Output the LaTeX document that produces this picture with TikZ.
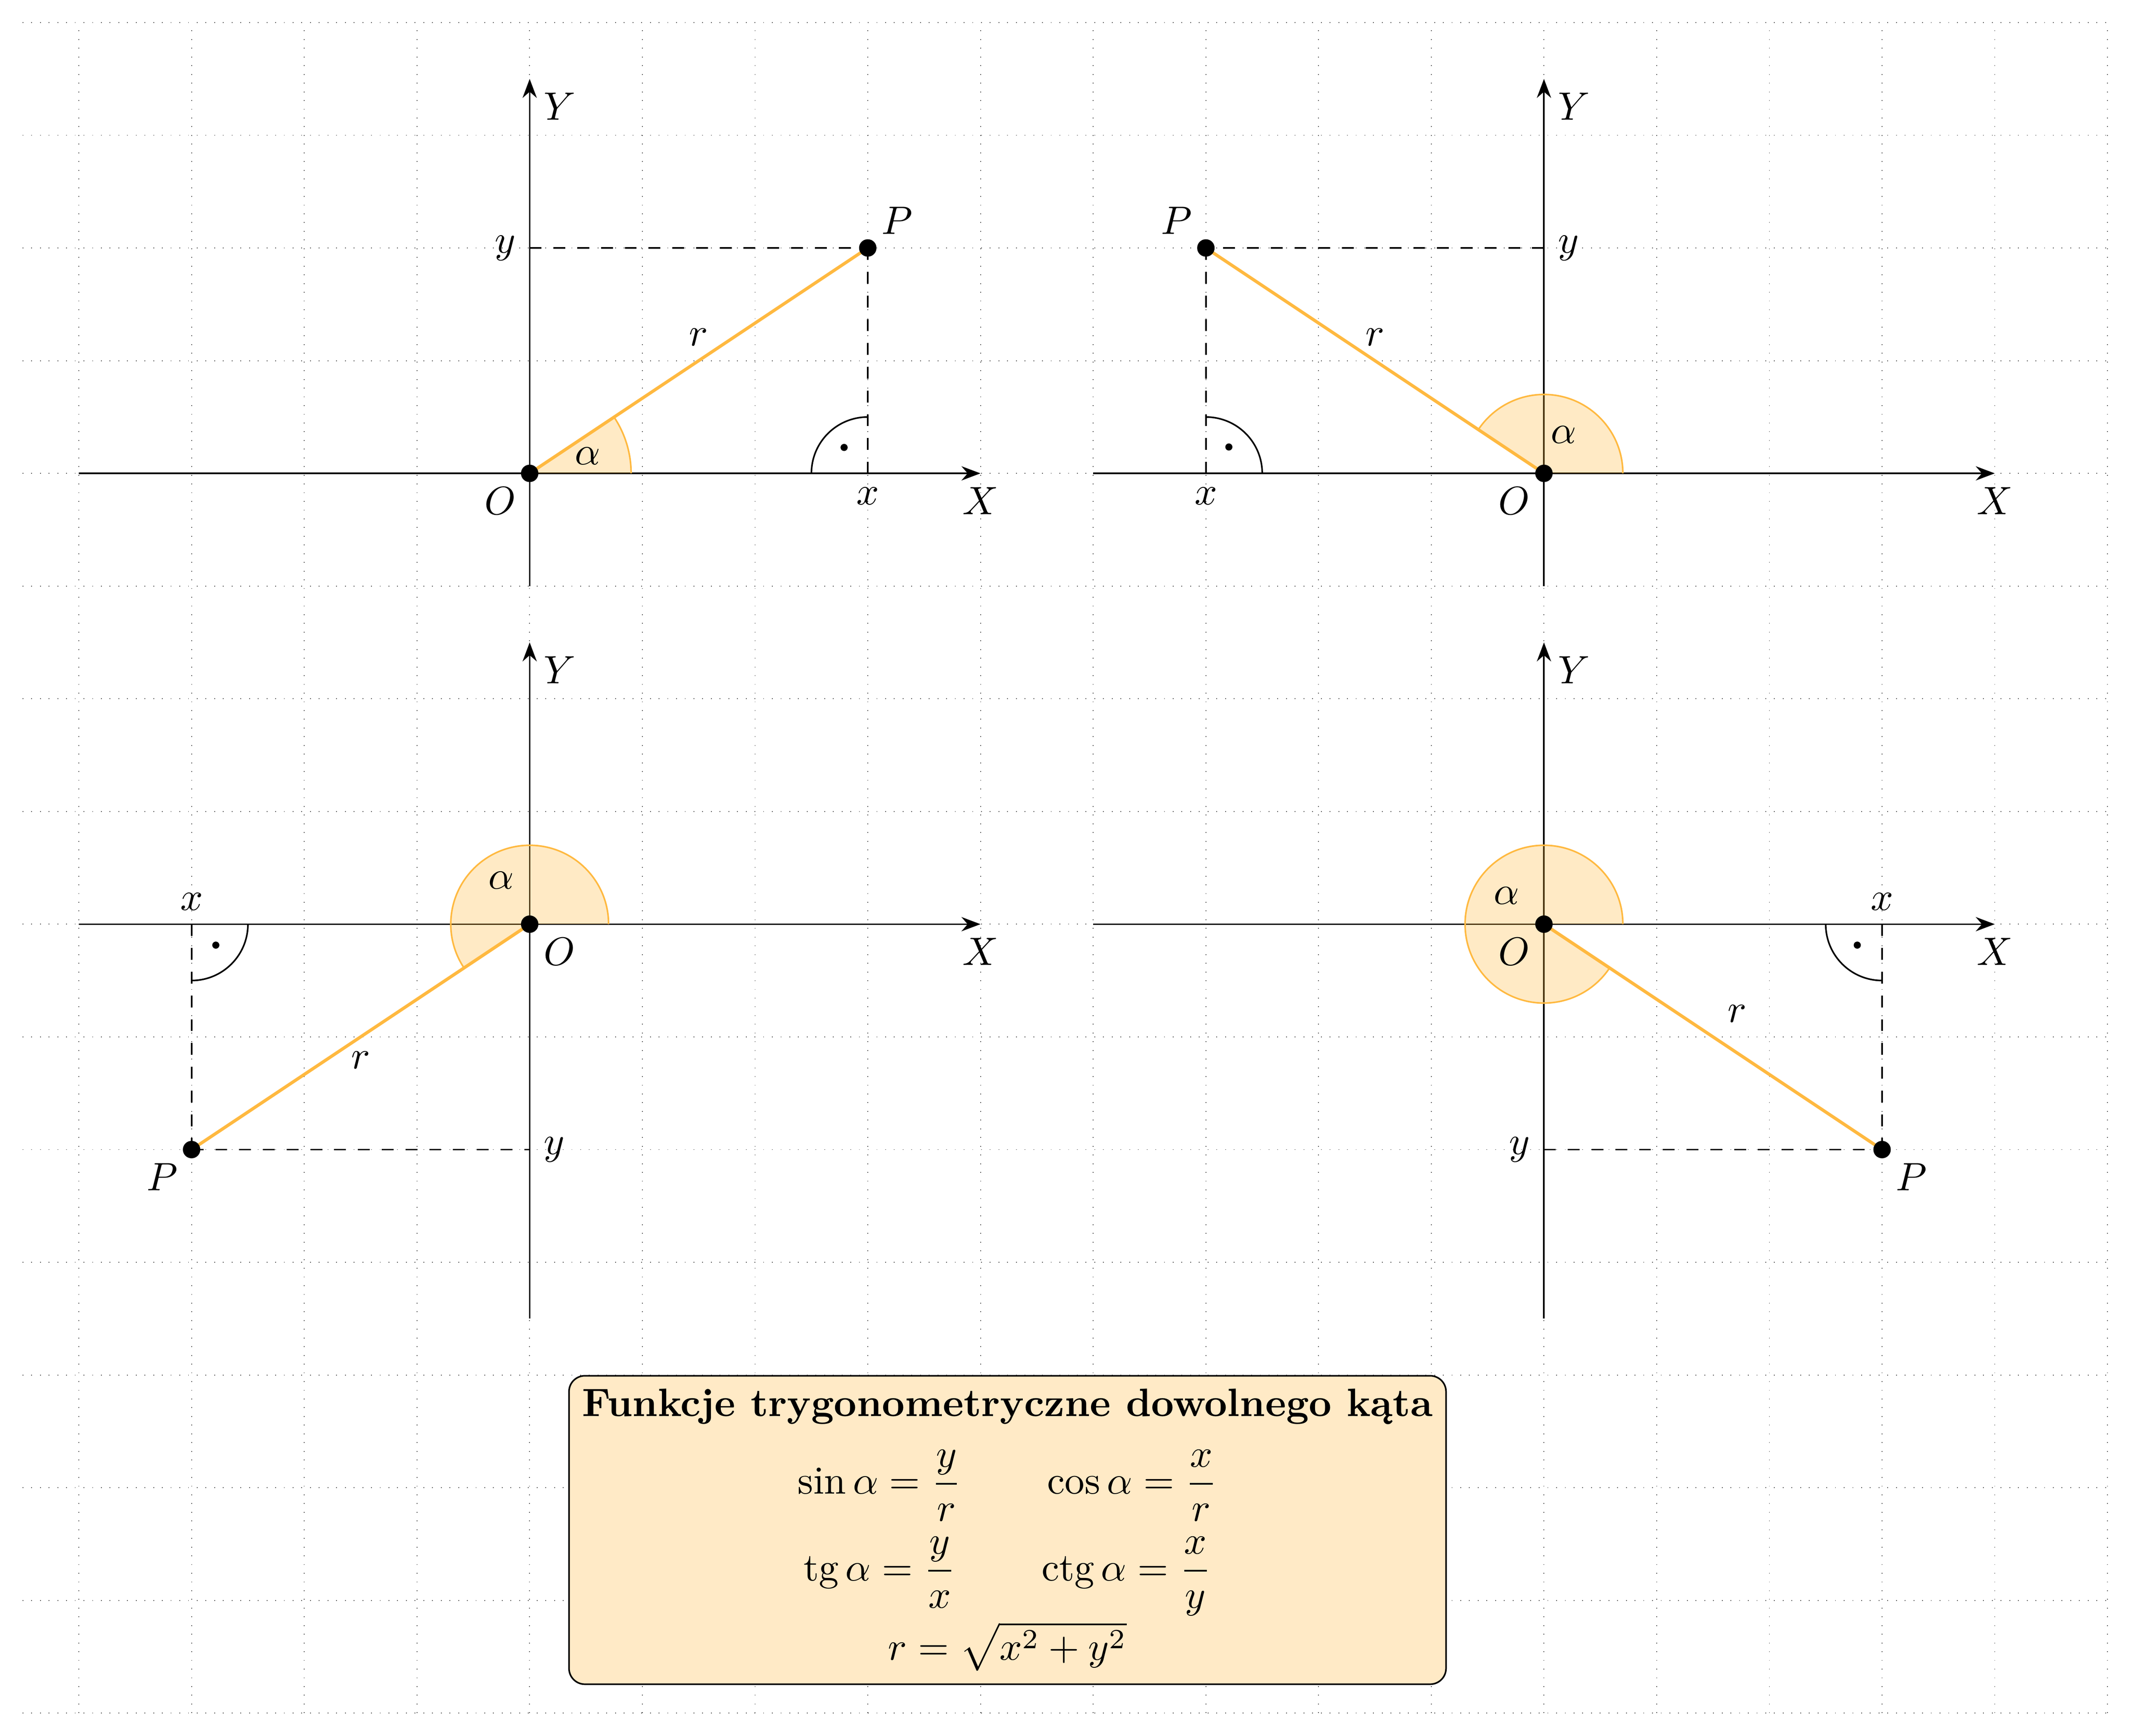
\documentclass[tikz,border=0pt]{standalone}
\usepackage{amsmath}
\usepackage{amssymb}
\usepackage{fontspec}
\usepackage{tikz}
\usetikzlibrary{arrows.meta, calc}
\definecolor{katkolor}{RGB}{255,185,64}
\tikzset{%
	siatka/.style={black!75, line width=0.2pt, dotted},
	os/.style={-{Stealth}},
	ramie/.style={katkolor, thick},
	rzut/.style={dashed},
	kat/.style={fill=katkolor, fill opacity=0.3},
	katluk/.style={katkolor},
	punkt/.style={fill=black},
	opis/.style={text=black},
	wzory/.style={draw, rectangle, rounded corners=4pt, fill=katkolor!30,%
		align=center, anchor=north}
}
\begin{document}
\begin{tikzpicture}
	\useasboundingbox (-4.7,-11.2) rectangle (14.2,4.2);
	\draw[siatka] (-4.5,-11) grid (14,4);

	% I cwiartka
	\begin{scope}
		\coordinate (O1) at (0,0);
		\coordinate (P1) at (3,2);
		\draw[os] (-4,0) -- (4,0) node[below] (X1) {$X$};
		\draw[os] (0,-1) -- (0,3.5) node[below right] (Y1) {$Y$};
		\fill[kat] (O1) -- (0.9,0) arc[start angle=0, end angle=33.69, radius=0.9] -- cycle;
		\draw[katluk] (0.9,0) arc[start angle=0, end angle=33.69, radius=0.9];
		\draw[rzut] (0,2) node[left] (y1) {$y$} -- (P1);
		\draw[rzut] (P1) -- (3,0) node[below] (x1) {$x$};
		\draw (3,0.5) arc[start angle=90, end angle=180, radius=0.5];
		\fill (2.79,0.23) circle (0.9pt);
		\draw[ramie] (O1) -- node[opis, above] (r1) {$r$} (P1);
		\fill[punkt] (O1) circle (2.2pt);
		\fill[punkt] (P1) circle (2.2pt);
		\node[below left] (o1) at (O1) {$O$};
		\node[above right] (p1) at (P1) {$P$};
		\node (a1) at (0.516,0.155) {$\alpha$};
	\end{scope}

	% II cwiartka
	\begin{scope}[shift={(9,0)}]
		\coordinate (O2) at (0,0);
		\coordinate (P2) at (-3,2);
		\draw[os] (-4,0) -- (4,0) node[below] (X2) {$X$};
		\draw[os] (0,-1) -- (0,3.5) node[below right] (Y2) {$Y$};
		\fill[kat] (O2) -- (0.7,0) arc[start angle=0, end angle=146.31, radius=0.7] -- cycle;
		\draw[katluk] (0.7,0) arc[start angle=0, end angle=146.31, radius=0.7];
		\draw[rzut] (0,2) node[right] (y2) {$y$} -- (P2);
		\draw[rzut] (P2) -- (-3,0) node[below] (x2) {$x$};
		\draw (-2.5,0) arc[start angle=0, end angle=90, radius=0.5];
		\fill (-2.796,0.234) circle (0.9pt);
		\draw[ramie] (O2) -- node[opis, above] (r2) {$r$} (P2);
		\fill[punkt] (O2) circle (2.2pt);
		\fill[punkt] (P2) circle (2.2pt);
		\node[below left] (o2) at (O2) {$O$};
		\node[above left] (p2) at (P2) {$P$};
		\node (a2) at (0.175,0.344) {$\alpha$};
	\end{scope}

	% III cwiartka
	\begin{scope}[shift={(0,-4)}]
		\coordinate (O3) at (0,0);
		\coordinate (P3) at (-3,-2);
		\draw[os] (-4,0) -- (4,0) node[below] (X3) {$X$};
		\draw[os] (0,-3.5) -- (0,2.5) node[below right] (Y3) {$Y$};
		\fill[kat] (O3) -- (0.7,0) arc[start angle=0, end angle=213.69, radius=0.7] -- cycle;
		\draw[katluk] (0.7,0) arc[start angle=0, end angle=213.69, radius=0.7];
		\draw[rzut] (P3) -- (0,-2) node[right] (y3) {$y$};
		\draw[rzut] (-3,0) node[above] (x3) {$x$} -- (P3);
		\draw (-2.5,0) arc[start angle=0, end angle=-90, radius=0.5];
		\fill (-2.785,-0.186) circle (0.9pt);
		\draw[ramie] (O3) -- node[opis, below] (r3) {$r$} (P3);
		\fill[punkt] (O3) circle (2.2pt);
		\fill[punkt] (P3) circle (2.2pt);
		\node[below right] (o3) at (O3) {$O$};
		\node[below left] (p3) at (P3) {$P$};
		\node (a3) at (-0.252,0.387) {$\alpha$};
	\end{scope}

	% IV cwiartka
	\begin{scope}[shift={(9,-4)}]
		\coordinate (O4) at (0,0);
		\coordinate (P4) at (3,-2);
		\draw[os] (-4,0) -- (4,0) node[below] (X4) {$X$};
		\draw[os] (0,-3.5) -- (0,2.5) node[below right] (Y4) {$Y$};
		\fill[kat] (O4) -- (0.7,0) arc[start angle=0, end angle=326.31, radius=0.7] -- cycle;
		\draw[katluk] (0.7,0) arc[start angle=0, end angle=326.31, radius=0.7];
		\draw[rzut] (0,-2) node[left] (y4) {$y$} -- (P4);
		\draw[rzut] (3,0) node[above] (x4) {$x$} -- (P4);
		\draw (2.5,0) arc[start angle=180, end angle=270, radius=0.5];
		\fill (2.78,-0.186) circle (0.9pt);
		\draw[ramie] (O4) -- node[opis, above right] (r4) {$r$} (P4);
		\fill[punkt] (O4) circle (2.2pt);
		\fill[punkt] (P4) circle (2.2pt);
		\node[below left] (o4) at (O4) {$O$};
		\node[below right] (p4) at (P4) {$P$};
		\node (a4) at (-0.333,0.252) {$\alpha$};
	\end{scope}

	\node[wzory] (wzory) at (4.24,-8) {\textbf{Funkcje trygonometryczne dowolnego kąta}\\[5.4pt]
		$\sin\alpha=\dfrac{y}{r}\qquad\cos\alpha=\dfrac{x}{r}$\\[3pt]
		$\operatorname{tg}\alpha=\dfrac{y}{x}\qquad\operatorname{ctg}\alpha=\dfrac{x}{y}$\\[0.6pt]
		$r=\sqrt{x^2+y^2}$};
\end{tikzpicture}
\end{document}
